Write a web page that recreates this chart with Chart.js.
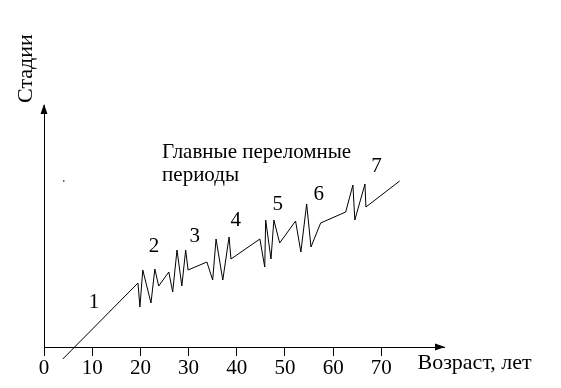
<!DOCTYPE html>
<html>
<head>
<meta charset="utf-8">
<script src="https://cdn.jsdelivr.net/npm/chart.js@4.4.1/dist/chart.umd.min.js"></script>
<style>
  html, body { margin: 0; padding: 0; background: #fff; }
  #wrap { width: 561px; height: 388px; }
</style>
</head>
<body>
<div id="wrap"><canvas id="chart1"></canvas></div>
<script>
// возраст (лет) и условный уровень стадии
var ages   = [3.9, 19.5, 19.9, 20.5, 22.2, 23.0, 23.8, 25.9, 26.7, 27.6, 28.6, 29.4, 29.9,
              33.8, 35.0, 35.7, 37.1, 38.4, 38.8, 44.8, 45.8, 46.0, 47.1, 47.7, 48.9,
              52.2, 53.3, 54.5, 55.4, 57.4, 62.6, 64.1, 64.5, 66.6, 66.8, 73.8]
var stages = [-1.2, 6.4, 4.0, 7.7, 4.4, 7.8, 6.1, 7.5, 5.5, 9.7, 6.1, 9.7, 7.7,
              8.5, 6.7, 10.8, 6.7, 11.0, 8.8, 10.8, 8.0, 12.7, 8.8, 12.7, 10.4,
              12.6, 9.5, 14.3, 10.0, 12.4, 13.5, 16.2, 12.7, 16.3, 14.0, 16.6]
var xTicks = [0, 10, 20, 30, 40, 50, 60, 70]

// номера переломных периодов
var periodNames = ['1', '2', '3', '4', '5', '6', '7']
var periodAges  = [10.4, 22.8, 31.3, 39.8, 48.5, 57.0, 69.0]
var periodLevel = [4.5, 10.1, 11.1, 12.7, 14.3, 15.3, 18.1]

var captionLines = ['Главные переломные', 'периоды']
var xTitle = 'Возраст, лет'
var yTitle = 'Стадии'

var points = []
for (var i = 0; i < ages.length; i++){
    points.push({x: ages[i], y: stages[i]})
}

const serif = "'Liberation Serif', 'Times New Roman', serif"

// стрелки на осях + подписи
const drawExtras = {
    id: 'drawExtras',
    afterDraw(chart){
        const ctx = chart.ctx
        const xs = chart.scales.x, ys = chart.scales.y
        const x0 = xs.getPixelForValue(0), y0 = ys.getPixelForValue(0)
        ctx.save()
        ctx.fillStyle = '#000'
        // стрелка Y
        ctx.beginPath()
        ctx.moveTo(x0, ys.top - 1)
        ctx.lineTo(x0 - 3.5, ys.top + 9)
        ctx.lineTo(x0 + 3.5, ys.top + 9)
        ctx.closePath()
        ctx.fill()
        // стрелка X
        ctx.beginPath()
        ctx.moveTo(xs.right + 1, y0)
        ctx.lineTo(xs.right - 9, y0 - 3.5)
        ctx.lineTo(xs.right - 9, y0 + 3.5)
        ctx.closePath()
        ctx.fill()

        ctx.font = '21px ' + serif
        ctx.textAlign = 'center'
        ctx.textBaseline = 'middle'
        for (var i = 0; i < periodNames.length; i++){
            ctx.fillText(periodNames[i], xs.getPixelForValue(periodAges[i]), ys.getPixelForValue(periodLevel[i]))
        }

        ctx.textAlign = 'left'
        ctx.textBaseline = 'alphabetic'
        ctx.font = '21px ' + serif
        ctx.fillText(captionLines[0], xs.getPixelForValue(24.5), ys.getPixelForValue(18.9))
        ctx.fillText(captionLines[1], xs.getPixelForValue(24.5), ys.getPixelForValue(16.6))

        ctx.font = '22px ' + serif
        ctx.fillText(xTitle, xs.getPixelForValue(77.5), y0 + 22)

        ctx.translate(32, ys.top - 2)
        ctx.rotate(-Math.PI / 2)
        ctx.textAlign = 'left'
        ctx.fillText(yTitle, 0, 0)
        ctx.restore()
    }
}

new Chart(document.getElementById('chart1'), {
    type: 'scatter',
    data: {
        datasets: [{
            data: points,
            showLine: true,
            borderColor: '#000',
            borderWidth: 1,
            pointRadius: 0,
            clip: false
        }, {
            data: [{x: 4.1, y: 16.6}], // точка-артефакт на оригинале
            pointRadius: 0.8,
            backgroundColor: '#000',
            borderWidth: 0
        }]
    },
    options: {
        responsive: true,
        maintainAspectRatio: false,
        animation: false,
        events: [],
        layout: { padding: { left: 44, right: 117, top: 105, bottom: 33 } },
        plugins: { legend: { display: false }, tooltip: { enabled: false } },
        scales: {
            x: {
                type: 'linear',
                min: 0,
                max: 83,
                position: { y: 0 },
                afterBuildTicks: axis => { axis.ticks = xTicks.map(v => ({ value: v })) },
                grid: { drawOnChartArea: false, drawTicks: true, tickLength: 8, color: '#000' },
                border: { display: true, color: '#000', width: 1 },
                ticks: { color: '#000', font: { family: serif, size: 21 }, padding: 1, maxRotation: 0 }
            },
            y: {
                type: 'linear',
                min: -0.8,
                max: 24.2,
                position: { x: 0 },
                grid: { display: false },
                border: { display: true, color: '#000', width: 1 },
                ticks: { display: false }
            }
        }
    },
    plugins: [drawExtras]
});
</script>
</body>
</html>
